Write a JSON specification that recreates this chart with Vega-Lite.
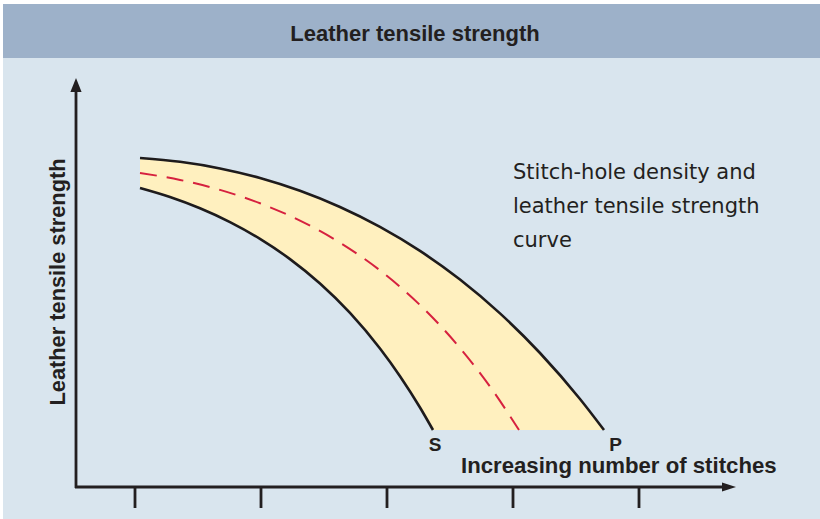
{
  "$schema": "https://vega.github.io/schema/vega-lite/v6.json",
  "width": 820,
  "height": 519,
  "autosize": "none",
  "padding": 0,
  "background": "#ffffff",
  "config": {"view": {"stroke": null}},
  "datasets": {
    "panels": [
      {"part": "header", "x": 3, "x2": 820, "y": 4, "y2": 58},
      {"part": "body", "x": 3, "x2": 820, "y": 58, "y2": 519}
    ],
    "curves": [
      {"curve": "upper", "x": 140, "y": 158},
      {"curve": "upper", "x": 180, "y": 161.8},
      {"curve": "upper", "x": 220, "y": 168.4},
      {"curve": "upper", "x": 260, "y": 178},
      {"curve": "upper", "x": 300, "y": 190.8},
      {"curve": "upper", "x": 340, "y": 207},
      {"curve": "upper", "x": 380, "y": 226.9},
      {"curve": "upper", "x": 420, "y": 250.9},
      {"curve": "upper", "x": 460, "y": 279.6},
      {"curve": "upper", "x": 500, "y": 313.4},
      {"curve": "upper", "x": 540, "y": 353},
      {"curve": "upper", "x": 580, "y": 399},
      {"curve": "upper", "x": 604, "y": 430},
      {"curve": "lower", "x": 140, "y": 188},
      {"curve": "lower", "x": 170, "y": 197},
      {"curve": "lower", "x": 200, "y": 208.3},
      {"curve": "lower", "x": 230, "y": 222.1},
      {"curve": "lower", "x": 260, "y": 238.9},
      {"curve": "lower", "x": 290, "y": 259.1},
      {"curve": "lower", "x": 320, "y": 283.5},
      {"curve": "lower", "x": 350, "y": 312.9},
      {"curve": "lower", "x": 380, "y": 348.5},
      {"curve": "lower", "x": 400, "y": 376.2},
      {"curve": "lower", "x": 420, "y": 407.5},
      {"curve": "lower", "x": 433, "y": 430},
      {"curve": "mid", "x": 140, "y": 173},
      {"curve": "mid", "x": 180, "y": 179.9},
      {"curve": "mid", "x": 220, "y": 189.9},
      {"curve": "mid", "x": 260, "y": 203.3},
      {"curve": "mid", "x": 300, "y": 220.6},
      {"curve": "mid", "x": 340, "y": 242.7},
      {"curve": "mid", "x": 380, "y": 270.4},
      {"curve": "mid", "x": 420, "y": 305},
      {"curve": "mid", "x": 460, "y": 348},
      {"curve": "mid", "x": 490, "y": 386.6},
      {"curve": "mid", "x": 519, "y": 430}
    ],
    "rules": [
      {"kind": "axis", "x": 76, "y": 90, "x2": 76, "y2": 488},
      {"kind": "axis", "x": 75, "y": 487, "x2": 724, "y2": 487},
      {"kind": "tick", "x": 135, "y": 487, "x2": 135, "y2": 508},
      {"kind": "tick", "x": 261, "y": 487, "x2": 261, "y2": 508},
      {"kind": "tick", "x": 387, "y": 487, "x2": 387, "y2": 508},
      {"kind": "tick", "x": 513, "y": 487, "x2": 513, "y2": 508},
      {"kind": "tick", "x": 639, "y": 487, "x2": 639, "y2": 508}
    ],
    "arrows": [
      {"dir": "up", "x": 76, "y": 85},
      {"dir": "right", "x": 729, "y": 487}
    ],
    "labels": [
      {"role": "title", "text": "Leather tensile strength", "x": 415, "y": 41},
      {"role": "ylabel", "text": "Leather tensile strength", "x": 65, "y": 282},
      {"role": "xlabel", "text": "Increasing number of stitches", "x": 461, "y": 473},
      {"role": "point", "text": "S", "x": 435, "y": 451},
      {"role": "point", "text": "P", "x": 615.5, "y": 451},
      {"role": "note", "text": "Stitch-hole density and", "x": 513, "y": 179},
      {"role": "note", "text": "leather tensile strength", "x": 513, "y": 213},
      {"role": "note", "text": "curve", "x": 513, "y": 247}
    ]
  },
  "encoding": {
    "x": {"field": "x", "type": "quantitative", "scale": {"domain": [0, 820], "nice": false, "zero": false}, "axis": null},
    "y": {"field": "y", "type": "quantitative", "scale": {"domain": [0, 519], "nice": false, "zero": false, "reverse": true}, "axis": null}
  },
  "layer": [
    {
      "data": {"name": "panels"},
      "mark": {"type": "rect", "strokeWidth": 0},
      "encoding": {
        "x2": {"field": "x2"},
        "y2": {"field": "y2"},
        "color": {"field": "part", "type": "nominal", "scale": {"domain": ["header", "body"], "range": ["#9db1c9", "#d9e5ee"]}, "legend": null}
      }
    },
    {
      "data": {"name": "curves"},
      "transform": [{"filter": "datum.curve === 'upper'"}],
      "mark": {"type": "area", "interpolate": "monotone", "color": "#fff0bf", "opacity": 1},
      "encoding": {"y2": {"datum": 430}}
    },
    {
      "data": {"name": "curves"},
      "transform": [{"filter": "datum.curve === 'lower'"}],
      "mark": {"type": "area", "interpolate": "monotone", "color": "#d9e5ee", "opacity": 1},
      "encoding": {"y2": {"datum": 431}}
    },
    {
      "data": {"name": "curves"},
      "transform": [{"filter": "datum.curve !== 'mid'"}],
      "mark": {"type": "line", "interpolate": "monotone", "color": "#1e1b1c", "strokeWidth": 2.6},
      "encoding": {"detail": {"field": "curve"}}
    },
    {
      "data": {"name": "curves"},
      "transform": [{"filter": "datum.curve === 'mid'"}],
      "mark": {"type": "line", "interpolate": "monotone", "color": "#d6213f", "strokeWidth": 2, "strokeDash": [17, 10]},
      "encoding": {}
    },
    {
      "data": {"name": "rules"},
      "mark": {"type": "rule", "color": "#231f20", "strokeWidth": 2.8},
      "encoding": {"x2": {"field": "x2"}, "y2": {"field": "y2"}}
    },
    {
      "data": {"name": "arrows"},
      "mark": {"type": "point", "filled": true, "color": "#231f20", "opacity": 1, "size": 196, "strokeWidth": 0},
      "encoding": {
        "shape": {"field": "dir", "type": "nominal", "scale": {"domain": ["up", "right"], "range": ["M0,-1L0.8,1L-0.8,1Z", "M1,0L-1,0.65L-1,-0.65Z"]}, "legend": null}
      }
    },
    {
      "data": {"name": "labels"},
      "transform": [{"filter": "datum.role === 'title'"}],
      "mark": {"type": "text", "font": "Liberation Sans", "fontWeight": "bold", "fontSize": 22, "align": "center", "baseline": "alphabetic", "color": "#231f20"},
      "encoding": {"text": {"field": "text"}}
    },
    {
      "data": {"name": "labels"},
      "transform": [{"filter": "datum.role === 'ylabel'"}],
      "mark": {"type": "text", "font": "Liberation Sans", "fontWeight": "bold", "fontSize": 21.8, "align": "center", "baseline": "alphabetic", "angle": 270, "color": "#231f20"},
      "encoding": {"text": {"field": "text"}}
    },
    {
      "data": {"name": "labels"},
      "transform": [{"filter": "datum.role === 'xlabel'"}],
      "mark": {"type": "text", "font": "Liberation Sans", "fontWeight": "bold", "fontSize": 22.2, "align": "left", "baseline": "alphabetic", "color": "#231f20"},
      "encoding": {"text": {"field": "text"}}
    },
    {
      "data": {"name": "labels"},
      "transform": [{"filter": "datum.role === 'point'"}],
      "mark": {"type": "text", "font": "Liberation Sans", "fontWeight": "bold", "fontSize": 19, "align": "center", "baseline": "alphabetic", "color": "#231f20"},
      "encoding": {"text": {"field": "text"}}
    },
    {
      "data": {"name": "labels"},
      "transform": [{"filter": "datum.role === 'note'"}],
      "mark": {"type": "text", "font": "DejaVu Sans", "fontSize": 21, "align": "left", "baseline": "alphabetic", "color": "#231f20"},
      "encoding": {"text": {"field": "text"}}
    }
  ]
}
